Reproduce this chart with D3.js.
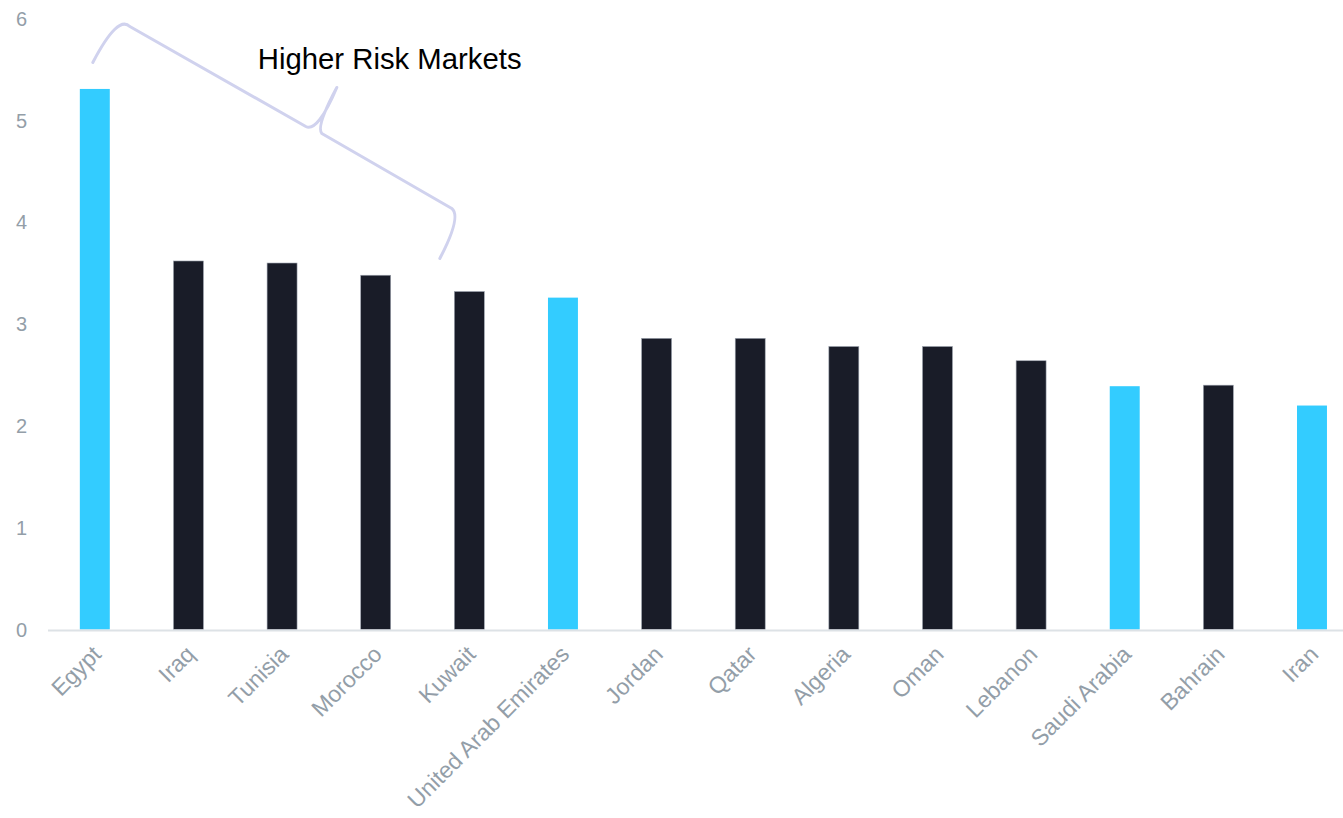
<!DOCTYPE html>
<html>
<head>
<meta charset="utf-8">
<script src="https://cdn.jsdelivr.net/npm/d3@7"></script>
<style>
  html, body { margin: 0; padding: 0; background: #fff; overflow: hidden; }
  svg { display: block; font-family: "Liberation Sans", Arial, sans-serif; }
</style>
</head>
<body>
<svg id="chart" width="1343" height="818"></svg>
<script>
// Country risk scores, sorted high to low
const countries = ["Egypt", "Iraq", "Tunisia", "Morocco", "Kuwait", "United Arab Emirates",
  "Jordan", "Qatar", "Algeria", "Oman", "Lebanon", "Saudi Arabia", "Bahrain", "Iran"];
const riskScores = [5.31, 3.62, 3.60, 3.48, 3.32, 3.26, 2.86, 2.86, 2.78, 2.78, 2.64, 2.39, 2.40, 2.20];
const highlighted = ["Egypt", "United Arab Emirates", "Saudi Arabia", "Iran"];
const yTicks = [0, 1, 2, 3, 4, 5, 6];
const annotationText = "Higher Risk Markets";

const W = 1343, H = 818;
const svg = d3.select("#chart");

const x = d3.scaleBand()
  .domain(countries)
  .range([48, 1358.8])
  .paddingInner(0.68)
  .paddingOuter(0.34);

const y = d3.scaleLinear()
  .domain([0, 6])
  .range([629.5, 18.7]);

const labelColor = "#939ea8";

// y tick labels (no axis line, no grid)
svg.append("g")
  .selectAll("text")
  .data(yTicks)
  .join("text")
  .attr("x", 27)
  .attr("y", d => y(d))
  .attr("dy", "0.35em")
  .attr("text-anchor", "end")
  .attr("font-size", 20)
  .attr("fill", labelColor)
  .text(d => d);

// bars
const data = countries.map((c, i) => ({ c, v: riskScores[i] }));
svg.append("g")
  .selectAll("rect")
  .data(data)
  .join("rect")
  .attr("x", d => x(d.c))
  .attr("width", x.bandwidth())
  .attr("y", d => y(d.v))
  .attr("height", d => y(0) - y(d.v))
  .attr("fill", d => highlighted.includes(d.c) ? "#33ccff" : "#191c28")
  .attr("stroke", d => highlighted.includes(d.c) ? "none" : "#9ca2ad")
  .attr("stroke-width", 0.6);

// baseline
svg.append("line")
  .attr("x1", 48).attr("x2", W)
  .attr("y1", y(0) + 1).attr("y2", y(0) + 1)
  .attr("stroke", "#dde2e6")
  .attr("stroke-width", 2);

// category labels, rotated
svg.append("g")
  .selectAll("text")
  .data(countries)
  .join("text")
  .attr("transform", d => `translate(${x(d) + x.bandwidth() / 2 + 2},650) rotate(-45)`)
  .attr("dy", "0.35em")
  .attr("text-anchor", "end")
  .attr("font-size", 23)
  .attr("fill", labelColor)
  .text(d => d);

// curly bracket over the higher-risk group
const sx = x("Egypt") + x.bandwidth() / 2 - 2;
const sy = y(5.57);
const p = d3.path();
p.moveTo(sx, sy);
p.quadraticCurveTo(sx + 25, sy - 48, sx + 37, sy - 36);
p.lineTo(sx + 213, sy + 64);
p.quadraticCurveTo(sx + 225, sy + 70, sx + 244, sy + 25);
p.quadraticCurveTo(sx + 223, sy + 64, sx + 229, sy + 71);
p.lineTo(sx + 359, sy + 146);
p.quadraticCurveTo(sx + 369, sy + 154, sx + 347, sy + 196);
svg.append("path")
  .attr("d", p.toString())
  .attr("fill", "none")
  .attr("stroke", "#d0d2ee")
  .attr("stroke-width", 3)
  .attr("stroke-linejoin", "round")
  .attr("stroke-linecap", "round");

svg.append("text")
  .attr("x", sx + 165)
  .attr("y", sy + 7)
  .attr("font-size", 29.3)
  .attr("fill", "#000")
  .text(annotationText);
</script>
</body>
</html>
